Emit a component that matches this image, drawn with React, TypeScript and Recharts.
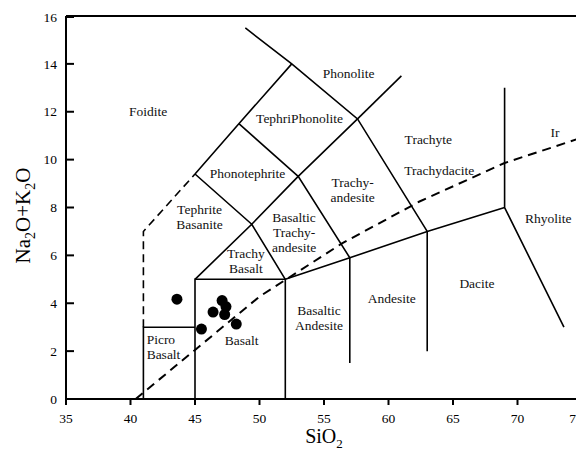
import {
  ScatterChart,
  Scatter,
  XAxis,
  YAxis,
  ReferenceLine,
} from "recharts";

const xTicks = [35, 40, 45, 50, 55, 60, 65, 70, 75];
const yTicks = [0, 2, 4, 6, 8, 10, 12, 14, 16];

// sample analyses (SiO2, Na2O+K2O)
const samples = [
  { x: 43.6, y: 4.17 },
  { x: 45.5, y: 2.92 },
  { x: 46.4, y: 3.63 },
  { x: 47.1, y: 4.11 },
  { x: 47.4, y: 3.86 },
  { x: 47.3, y: 3.53 },
  { x: 48.2, y: 3.13 },
];

// field boundaries, solid
const solidBounds = [
  [[41, 0], [41, 3], [45, 3]],
  [[45, 0], [45, 5], [52, 5], [52, 0]],
  [[52, 5], [57, 5.9], [63, 7], [69, 8]],
  [[57, 1.5], [57, 5.9]],
  [[63, 2], [63, 7]],
  [[69, 13], [69, 8], [73.6, 3]],
  [[45, 5], [49.4, 7.3], [52, 5]],
  [[45, 9.4], [49.4, 7.3], [53, 9.3], [57, 5.9]],
  [[45, 9.4], [48.4, 11.5], [52.5, 14]],
  [[48.4, 11.5], [53, 9.3], [57.6, 11.7]],
  [[48.9, 15.5], [52.5, 14], [57.6, 11.7], [63, 7]],
  [[57.6, 11.7], [61, 13.5]],
];

// dashed boundary of the foidite field
const foiditeBound = [[41, 3], [41, 7], [45, 9.4]];

// Irvine & Baragar alkaline / subalkaline divide
const irvine = [
  [40.4, 0],
  [45, 2.05],
  [50, 4.28],
  [56.4, 6.5],
  [62.4, 8.25],
  [69, 9.86],
  [75, 10.92],
];

const fieldNames = [
  "Foidite", "Phonolite", "TephriPhonolite", "Phonotephrite", "Tephrite\nBasanite",
  "Trachy\nBasalt", "Basaltic\nTrachy-\nandesite", "Trachy-\nandesite", "Trachyte",
  "Trachydacite", "Ir", "Rhyolite", "Dacite", "Andesite", "Basaltic\nAndesite",
  "Picro\nBasalt", "Basalt",
];
const fieldX = [41.36, 56.9, 53.1, 49.07, 45.35, 48.95, 52.68, 57.22, 63.09, 63.93, 72.9, 72.39, 66.86, 60.25, 54.61, 41.25, 48.62];
const fieldY = [12.0, 13.62, 11.72, 9.41, 7.62, 5.79, 6.95, 8.76, 10.84, 9.55, 11.13, 7.56, 4.84, 4.21, 3.41, 2.19, 2.47];

const labelData = fieldNames.map((name, i) => ({ x: fieldX[i], y: fieldY[i], name }));
const toPts = (arr: number[][]) => arr.map(([x, y]) => ({ x, y }));

const FONT = "Liberation Serif";
const txt = { fontFamily: FONT };

const Nothing = () => <g />;

const FieldLabel = (props: any) => {
  const { cx, cy, payload } = props;
  const lines = String(payload.name).split("\n");
  const lh = 15;
  const left = payload.name.startsWith("Picro");
  const top = cy - ((lines.length - 1) * lh) / 2;
  return (
    <text x={cx} y={top} textAnchor={left ? "start" : "middle"} style={txt} fontSize={13.5} fill="#111">
      {lines.map((l, i) => (
        <tspan key={i} x={cx} dy={i === 0 ? "0.35em" : lh}>
          {l}
        </tspan>
      ))}
    </text>
  );
};

const Dot = (props: any) => <circle cx={props.cx} cy={props.cy} r={5.5} fill="#000" />;

const YTick = (props: any) => {
  const { x, y, payload } = props;
  return (
    <g>
      <line x1={x + 9} x2={x + 17} y1={y} y2={y} stroke="#000" strokeWidth={2} />
      <text x={x} y={y} dy="0.35em" textAnchor="end" style={txt} fontSize={13.5} fill="#000">
        {payload.value}
      </text>
    </g>
  );
};

const XTick = (props: any) => {
  const { x, y, payload } = props;
  return (
    <text x={x} y={y} dy="0.71em" textAnchor="middle" style={txt} fontSize={13.5} fill="#000">
      {payload.value}
    </text>
  );
};

const XTitle = (props: any) => {
  const vb = props.viewBox;
  return (
    <text x={vb.x + vb.width / 2} y={vb.y + 44} textAnchor="middle" style={txt} fontSize={20} fill="#000">
      SiO<tspan dy={5} fontSize={13}>2</tspan>
    </text>
  );
};

const YTitle = (props: any) => {
  const vb = props.viewBox;
  const cx = 22;
  const cy = vb.y + vb.height / 2 + 8;
  return (
    <text
      x={cx}
      y={cy}
      textAnchor="middle"
      transform={`rotate(-90 ${cx} ${cy})`}
      style={txt}
      fontSize={21}
      fill="#000"
    >
      Na<tspan dy={5} fontSize={14}>2</tspan>
      <tspan dy={-5}>O+K</tspan>
      <tspan dy={5} fontSize={14}>2</tspan>
      <tspan dy={-5}>O</tspan>
    </text>
  );
};

export default function App() {
  return (
    <ScatterChart width={576} height={442} margin={{ top: 8, right: 2, left: 0, bottom: 0 }}>
      <XAxis
        type="number"
        dataKey="x"
        domain={[35, 75]}
        ticks={xTicks}
        allowDataOverflow
        height={51}
        tickSize={6}
        tickMargin={8}
        axisLine={{ stroke: "#000", strokeWidth: 2 }}
        tickLine={{ stroke: "#000", strokeWidth: 2 }}
        tick={XTick}
        label={XTitle}
      />
      <YAxis
        type="number"
        dataKey="y"
        domain={[0, 16]}
        ticks={yTicks}
        allowDataOverflow
        width={58}
        tickSize={0}
        tickMargin={9}
        axisLine={{ stroke: "#000", strokeWidth: 2 }}
        tickLine={false}
        tick={YTick}
        label={YTitle}
      />
      <ReferenceLine y={16} stroke="#000" strokeWidth={2} />
      <ReferenceLine x={75} stroke="#000" strokeWidth={2} />
      {solidBounds.map((b, i) => (
        <Scatter
          key={"s" + i}
          data={toPts(b)}
          line={{ stroke: "#000", strokeWidth: 1.6 }}
          shape={Nothing}
          isAnimationActive={false}
        />
      ))}
      <Scatter
        data={toPts(foiditeBound)}
        line={{ stroke: "#000", strokeWidth: 1.6, strokeDasharray: "8 5" }}
        shape={Nothing}
        isAnimationActive={false}
      />
      <Scatter
        data={toPts(irvine)}
        line={{ stroke: "#000", strokeWidth: 2, strokeDasharray: "9 6" }}
        shape={Nothing}
        isAnimationActive={false}
      />
      <Scatter data={labelData} shape={FieldLabel} isAnimationActive={false} />
      <Scatter data={samples} shape={Dot} isAnimationActive={false} />
    </ScatterChart>
  );
}
